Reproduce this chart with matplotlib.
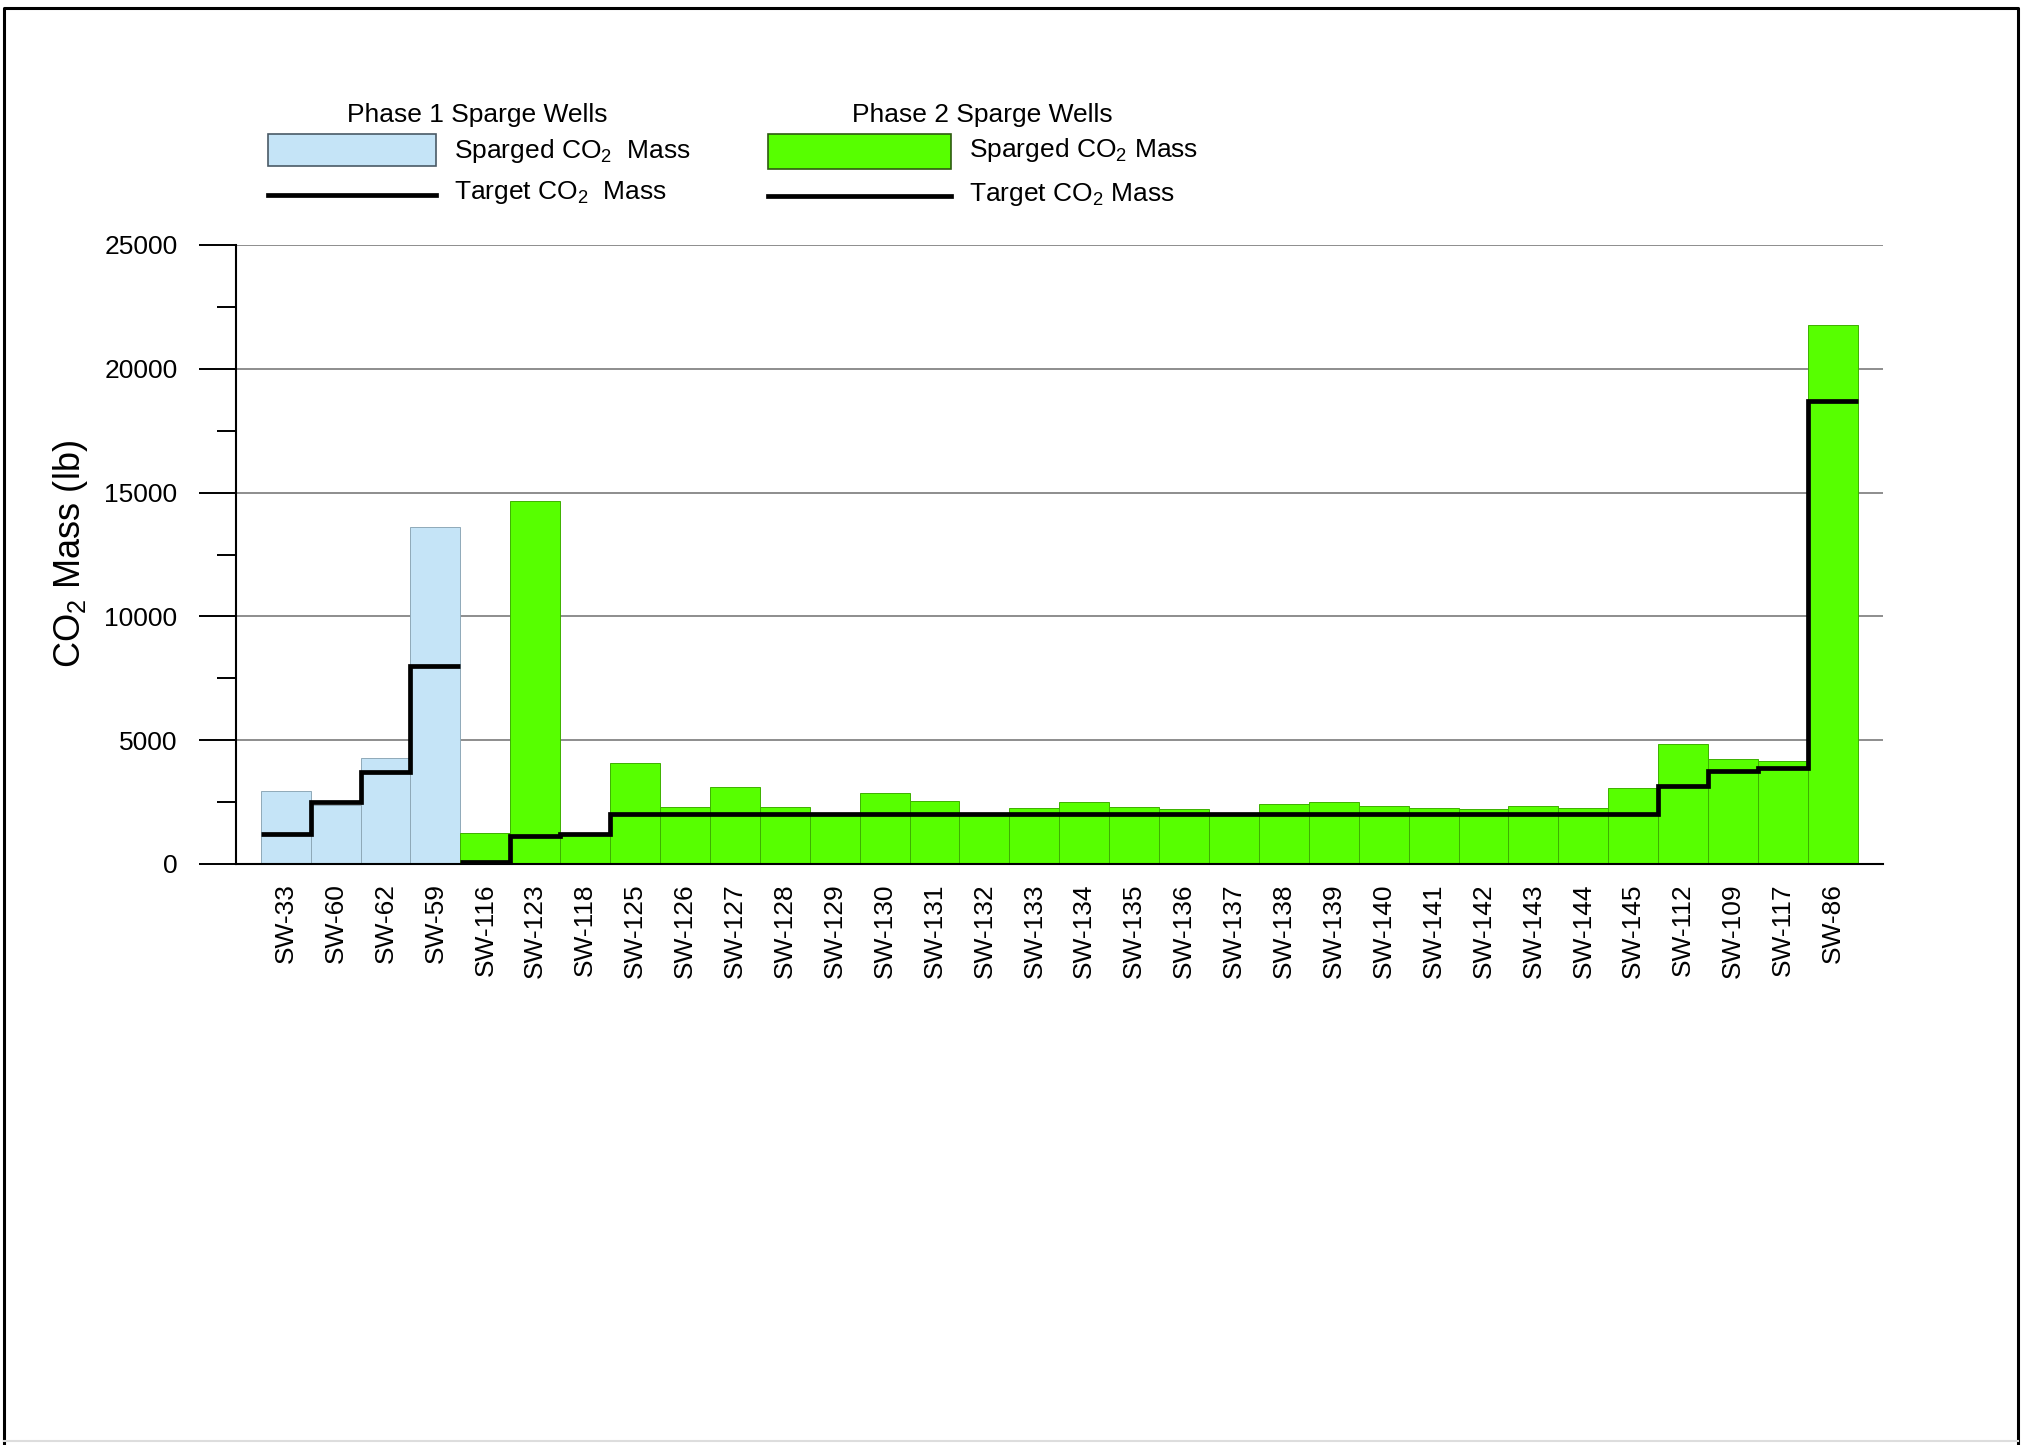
import numpy as np
import matplotlib
matplotlib.use("Agg")
import matplotlib.pyplot as plt
from matplotlib.patches import Rectangle
from matplotlib.lines import Line2D

plt.rcParams["font.family"] = ["Liberation Sans", "DejaVu Sans"]

# --------------------
# Data (lb of CO2)
# --------------------
phase1_wells = ["SW-33", "SW-60", "SW-62", "SW-59"]
phase1_sparged = [2930, 2400, 4300, 13600]
phase1_target = [1200, 2500, 3700, 8000]

phase2_wells = ["SW-116", "SW-123", "SW-118", "SW-125", "SW-126", "SW-127",
                "SW-128", "SW-129", "SW-130", "SW-131", "SW-132", "SW-133",
                "SW-134", "SW-135", "SW-136", "SW-137", "SW-138", "SW-139",
                "SW-140", "SW-141", "SW-142", "SW-143", "SW-144", "SW-145",
                "SW-112", "SW-109", "SW-117", "SW-86"]
phase2_sparged = [1260, 14650, 1250, 4060, 2300, 3120,
                  2300, 2060, 2870, 2550, 2060, 2280,
                  2510, 2290, 2240, 2050, 2410, 2520,
                  2360, 2270, 2240, 2360, 2250, 3050,
                  4840, 4250, 4140, 21750]
phase2_target = [100, 1130, 1230, 2000, 2000, 2000,
                 2000, 2000, 2000, 2000, 2000, 2000,
                 2000, 2000, 2000, 2000, 2000, 2000,
                 2000, 2000, 2000, 2000, 2000, 2000,
                 3170, 3760, 3860, 18700]

blue = "#C5E4F7"
green = "#57FF00"

W, H = 2021, 1445
fig = plt.figure(figsize=(W / 100, H / 100), dpi=100)
ax = fig.add_axes([235.8 / W, 1 - 864 / H, 1647 / W, 619 / H])

x1 = np.arange(len(phase1_wells))
x2 = np.arange(len(phase2_wells)) + len(phase1_wells)

# --------------------
# Bars + target steps
# --------------------
ax.bar(x1, phase1_sparged, width=1.0, color=blue, edgecolor="#8FA9B8", linewidth=0.7, zorder=2)
ax.bar(x2, phase2_sparged, width=1.0, color=green, edgecolor="#3DB000", linewidth=0.7, zorder=2)

ax.stairs(phase1_target, np.append(x1 - 0.5, x1[-1] + 0.5), baseline=None,
          color="black", linewidth=3.4, zorder=3)
ax.stairs(phase2_target, np.append(x2 - 0.5, x2[-1] + 0.5), baseline=None,
          color="black", linewidth=3.4, zorder=3)

# --------------------
# Axes styling
# --------------------
ax.set_xlim(-1, len(phase1_wells) + len(phase2_wells))
ax.set_ylim(0, 25000)
ax.set_xticks(np.concatenate([x1, x2]))
ax.set_xticklabels(phase1_wells + phase2_wells, rotation=90, fontsize=19)
ax.set_yticks([0, 5000, 10000, 15000, 20000, 25000])
ax.set_yticks([2500, 7500, 12500, 17500, 22500], minor=True)
ax.tick_params(axis="y", which="major", length=27, width=1.4, pad=15, labelsize=19)
ax.tick_params(axis="y", which="minor", length=14, width=1.4)
ax.tick_params(axis="x", length=0, pad=14)

ax.set_axisbelow(True)
ax.yaxis.grid(True, color="#7A7A7A", linewidth=1.2)
ax.spines["top"].set_visible(False)
ax.spines["right"].set_visible(False)
ax.spines["left"].set_linewidth(1.5)
ax.spines["bottom"].set_linewidth(1.5)

fig.text(71 / W, 1 - 554 / H, "CO$\\mathregular{_2}$ Mass (lb)", rotation=90,
         ha="center", va="center", fontsize=26)

# --------------------
# Legend (drawn in pixel space)
# --------------------
lg = fig.add_axes([0, 0, 1, 1])
lg.set_xlim(0, W)
lg.set_ylim(H, 0)
lg.axis("off")
lg.patch.set_alpha(0)

lg.text(477, 115, "Phase 1 Sparge Wells", ha="center", va="center", fontsize=19)
lg.add_patch(Rectangle((268, 134), 168, 32, facecolor=blue, edgecolor="#4A5A66", linewidth=1.2))
lg.text(454, 151, "Sparged CO$\\mathregular{_2}$  Mass", ha="left", va="center", fontsize=19)
lg.add_line(Line2D([268, 436], [195, 195], color="black", linewidth=3.4))
lg.text(454, 192, "Target CO$\\mathregular{_2}$  Mass", ha="left", va="center", fontsize=19)

lg.text(982, 115, "Phase 2 Sparge Wells", ha="center", va="center", fontsize=19)
lg.add_patch(Rectangle((768, 134), 183, 35, facecolor=green, edgecolor="#2E5A10", linewidth=1.2))
lg.text(969, 150, "Sparged CO$\\mathregular{_2}$ Mass", ha="left", va="center", fontsize=19)
lg.add_line(Line2D([768, 951], [196, 196], color="black", linewidth=3.4))
lg.text(969, 195, "Target CO$\\mathregular{_2}$ Mass", ha="left", va="center", fontsize=19)

# page frame
lg.add_line(Line2D([4, 4, 2018, 2018], [1445, 8, 8, 1445], color="black", linewidth=2.2))
lg.add_line(Line2D([4, 2018], [1441, 1441], color="#DDDDDD", linewidth=1.5))

fig.savefig("out.png", dpi=100)
